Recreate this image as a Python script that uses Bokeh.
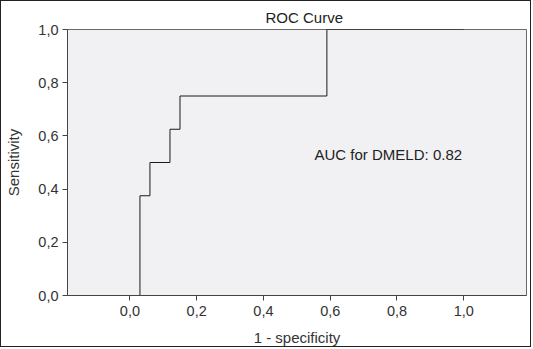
from bokeh.plotting import figure
from bokeh.models import Range1d, FixedTicker, CustomJSTickFormatter, Label
from bokeh.embed import file_html
from bokeh.resources import INLINE

# ROC points (1 - specificity, sensitivity)
fpr = [0.0, 0.03, 0.06, 0.12, 0.15, 0.59, 1.0]
tpr = [0.0, 0.375, 0.5, 0.625, 0.75, 1.0, 1.0]
tick_values = [0.0, 0.2, 0.4, 0.6, 0.8, 1.0]
title_text = "ROC Curve"
x_label = "1 - specificity"
y_label = "Sensitivity"
auc_text = "AUC for DMELD: 0.82"

FONT = "Liberation Sans"

p = figure(width=531, height=347, output_backend="svg", toolbar_location=None,
           x_range=Range1d(-0.187, 1.188), y_range=Range1d(0, 1),
           min_border_left=66, min_border_right=6, min_border_top=28, min_border_bottom=53,
           title=title_text)
p.styles = {"border": "1px solid #222222"}
p.background_fill_color = "#f1f1f3"
p.border_fill_color = "white"
p.outline_line_color = "#6a6a6a"
p.outline_line_width = 1
p.xgrid.visible = False
p.ygrid.visible = False

p.title.align = "left"
p.title.offset = 198
p.title.text_font = FONT
p.title.text_font_size = "15px"
p.title.text_font_style = "normal"
p.title.text_color = "#222222"
p.title.standoff = 8

fmt = CustomJSTickFormatter(code="return tick.toFixed(1).replace('.', ',');")
for ax in (p.xaxis[0], p.yaxis[0]):
    ax.ticker = FixedTicker(ticks=tick_values)
    ax.formatter = fmt
    ax.minor_tick_line_color = None
    ax.major_tick_in = 0
    ax.major_tick_out = 5
    ax.major_tick_line_color = "#444444"
    ax.axis_line_color = "#444444"
    ax.major_label_text_font = FONT
    ax.major_label_text_font_size = "14.5px"
    ax.major_label_text_color = "#333333"
    ax.axis_label_text_font = FONT
    ax.axis_label_text_font_size = "15px"
    ax.axis_label_text_font_style = "normal"
    ax.axis_label_text_color = "#333333"

p.xaxis.axis_label = x_label
p.yaxis.axis_label = y_label
p.xaxis.major_label_standoff = 5
p.yaxis.major_label_standoff = 4
p.xaxis.axis_label_standoff = 10
p.yaxis.axis_label_standoff = 13

p.step(fpr, tpr, mode="after", line_color="#1a1a1a", line_width=1)

p.add_layout(Label(x=0.553, y=0.53, text=auc_text, text_font=FONT, text_font_size="15px",
                   text_color="#222222", text_align="left", text_baseline="middle"))

open("out.html", "w").write(file_html(p, INLINE))
